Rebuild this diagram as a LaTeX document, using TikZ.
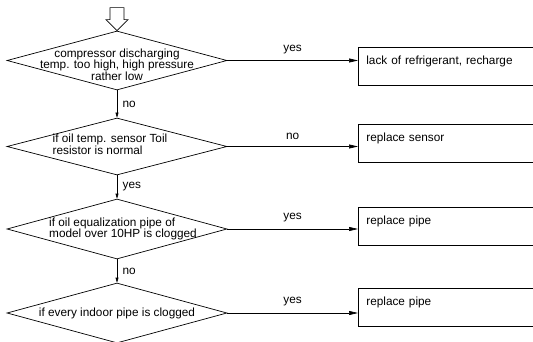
\documentclass[tikz,border=0pt]{standalone}
\usepackage{fontspec}
\setmainfont{Liberation Sans}
\usetikzlibrary{shapes.geometric,arrows.meta}
\begin{document}
\begin{tikzpicture}[x=1pt,y=1pt, line width=0.7pt,
    font=\fontsize{11.8}{11.5}\selectfont,
    check/.style={draw, diamond, minimum width=220pt, inner sep=0pt},
    result/.style={draw, rectangle, anchor=north west, minimum height=38pt,
      text width=180pt, align=left, inner xsep=8pt, text height=8pt, text depth=11pt},
    flow/.style={-{Triangle[length=9pt,width=4pt]}},
    down/.style={-{Triangle[length=5pt,width=3pt]}}]
    \useasboundingbox (0,0) rectangle (533,-342);
    \clip (0,0) rectangle (533,-342);
    % the checks, top to bottom
    \node[check, minimum height=59pt] (d1) at (117,-60.5) {};
    \node[check, minimum height=57pt] (d2) at (117,-146.5) {};
    \node[check, minimum height=60pt] (d3) at (117,-229) {};
    \node[check, minimum height=60pt] (d4) at (117,-313) {};
    \node[align=center] (t1) at ([yshift=-4pt]d1) {compressor discharging\\temp. too high, high pressure\\rather low};
    \node[align=left] (t2) at ([xshift=-7pt,yshift=2pt]d2) {if oil temp. sensor Toil\\resistor is normal};
    \node[align=left] (t3) at ([xshift=6pt]d3) {if oil equalization pipe of\\model over 10HP is clogged};
    \node (t4) at (d4) {if every indoor pipe is clogged};
    % what to do
    \node[result] (b1) at (358,-47) {lack of refrigerant, recharge};
    \node[result] (b2) at (358,-124) {replace sensor};
    \node[result] (b3) at (358,-207) {replace pipe};
    \node[result] (b4) at (358,-288) {replace pipe};
    % entry arrow
    \draw (d1.north) -- ++(-11,11) -- ++(4,0) -- ++(0,12) -- ++(14,0) -- ++(0,-12) -- ++(4,0) -- cycle;
    % branches
    \draw[flow] (d1.east) -- (d1.east -| b1.west) node[midway, above=3pt] {yes};
    \draw[flow] (d2.east) -- (d2.east -| b2.west) node[midway, above=3pt] {no};
    \draw[flow] (d3.east) -- (d3.east -| b3.west) node[midway, above=3pt] {yes};
    \draw[flow] (d4.east) -- (d4.east -| b4.west) node[midway, above=3pt] {yes};
    \draw[down] (d1.south) -- (d2.north) node[midway, right=2pt] {no};
    \draw[down] (d2.south) -- (d3.north) node[midway, right=2pt] {yes};
    \draw[down] (d3.south) -- (d4.north) node[midway, right=2pt] {no};
  \end{tikzpicture}
\end{document}
